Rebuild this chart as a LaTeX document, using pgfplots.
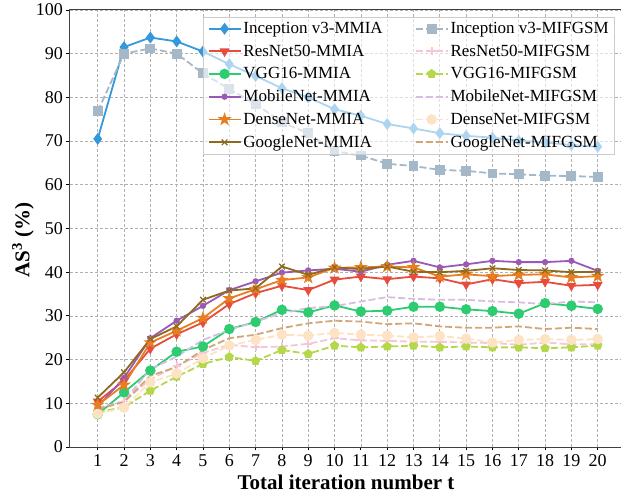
\documentclass[border=0pt]{standalone}
\usepackage{pgfplots}
\pgfplotsset{compat=1.18}
\usepackage{fontspec}
\setmainfont{Liberation Serif}
\usetikzlibrary{plotmarks}

\definecolor{cblue}{HTML}{3498DB}
\definecolor{cred}{HTML}{E74C3C}
\definecolor{cgreen}{HTML}{2ECC71}
\definecolor{cpurple}{HTML}{9B59B6}
\definecolor{corange}{HTML}{E67E22}
\definecolor{cbrown}{HTML}{8C6A1E}
\definecolor{cgray}{HTML}{A5B8C8}
\definecolor{cpink}{HTML}{F5C6D8}
\definecolor{clime}{HTML}{B5D84A}
\definecolor{clilac}{HTML}{D7BDE2}
\definecolor{cpeach}{HTML}{FDE3C3}
\definecolor{ctan}{HTML}{D2A679}
\definecolor{cgrid}{HTML}{B0B0B0}

\pgfdeclareplotmark{fstar}{%
  \pgfpathmoveto{\pgfpointpolar{90}{\pgfplotmarksize}}%
  \pgfpathlineto{\pgfpointpolar{126}{0.4\pgfplotmarksize}}%
  \pgfpathlineto{\pgfpointpolar{162}{\pgfplotmarksize}}%
  \pgfpathlineto{\pgfpointpolar{198}{0.4\pgfplotmarksize}}%
  \pgfpathlineto{\pgfpointpolar{234}{\pgfplotmarksize}}%
  \pgfpathlineto{\pgfpointpolar{270}{0.4\pgfplotmarksize}}%
  \pgfpathlineto{\pgfpointpolar{306}{\pgfplotmarksize}}%
  \pgfpathlineto{\pgfpointpolar{342}{0.4\pgfplotmarksize}}%
  \pgfpathlineto{\pgfpointpolar{18}{\pgfplotmarksize}}%
  \pgfpathlineto{\pgfpointpolar{54}{0.4\pgfplotmarksize}}%
  \pgfpathclose\pgfusepathqfillstroke}

\pgfplotstableread{
t incM incF resM resF vggM vggF mobM mobF denM denF gooM gooF
1 70.5 76.8 10.4 8.5 7.5 8.0 9.2 8.9 9.6 7.6 11.3 8.7
2 91.5 90.0 15.2 10.4 12.5 9.1 15.8 10.5 14.2 9.0 17.1 10.3
3 93.7 91.2 22.5 15.5 17.5 12.9 24.9 17.8 23.9 14.8 24.7 16.3
4 92.8 90.0 25.8 18.5 21.8 16.1 28.9 20.7 26.6 16.8 27.6 18.3
5 90.5 85.5 28.5 21.5 23.0 19.0 32.3 24.5 29.5 20.3 33.7 22.2
6 87.6 81.9 32.7 23.4 27.0 20.6 35.9 26.8 34.0 23.2 35.8 24.9
7 84.9 78.5 35.2 22.8 28.6 19.7 37.9 28.7 36.1 24.5 36.3 25.7
8 82.1 74.3 36.9 23.0 31.4 22.2 39.9 30.6 38.2 25.7 41.3 27.2
9 80.0 71.8 35.9 23.6 30.8 21.3 40.4 31.8 38.8 25.5 39.4 28.3
10 77.3 67.7 38.3 24.9 32.4 23.2 40.8 32.2 41.0 26.1 41.1 28.9
11 75.8 66.7 39.0 24.4 31.0 22.8 40.1 33.3 41.1 25.7 40.7 28.7
12 73.9 64.8 38.4 24.3 31.2 23.0 41.7 34.3 41.3 25.5 41.3 28.1
13 72.9 64.3 39.0 24.1 32.1 23.2 42.6 33.9 41.1 25.1 40.1 28.3
14 71.8 63.4 38.6 24.1 32.1 22.8 41.1 33.7 39.0 25.4 40.0 27.6
15 71.2 63.2 37.2 23.9 31.5 23.0 41.8 33.7 39.5 24.8 40.3 27.3
16 70.8 62.6 38.4 23.8 31.1 22.8 42.6 33.3 39.1 23.9 40.9 27.3
17 70.1 62.4 37.5 23.4 30.5 22.8 42.3 33.1 39.4 24.5 40.5 27.6
18 69.7 62.1 37.8 23.9 32.9 22.6 42.3 32.7 39.5 24.7 40.4 27.0
19 69.1 62.0 36.9 23.5 32.3 22.8 42.6 33.3 38.8 24.5 40.0 27.3
20 68.7 61.8 37.1 23.5 31.6 23.2 40.3 33.1 39.1 24.7 40.1 27.0
}\datatable

\begin{document}
\begin{tikzpicture}
\begin{axis}[
  scale only axis,
  width=552bp, height=437bp,
  xmin=-0.053, xmax=20.923,
  ymin=0, ymax=100,
  xtick={1,...,20},
  ytick={0,10,...,100},
  grid=major,
  grid style={cgrid, dash pattern=on 3bp off 2bp, line width=0.7bp},
  axis line style={black!75, line width=1bp},
  tick style={black, line width=0.8bp},
  major tick length=3.5bp,
  tick align=outside,
  xtick pos=lower, ytick pos=left,
  /pgf/number format/assume math mode=true,
  tick label style={font=\fontsize{18bp}{20bp}\selectfont},
  xticklabel style={yshift=-1bp},
  xlabel={\textbf{Total iteration number t}},
  xlabel style={font=\fontsize{21bp}{24bp}\selectfont, at={(axis description cs:0.5,0)}, anchor=center, yshift=-35bp},
  ylabel={\textbf{AS\textsuperscript{3} (\%)}},
  ylabel style={font=\fontsize{21bp}{24bp}\selectfont, at={(axis description cs:-0.085,0.474)}, anchor=center},
  legend columns=2,
  legend cell align=left,
  legend image code/.code={\draw[fill opacity=1, draw opacity=1, mark repeat=2,mark phase=2] plot coordinates {(0bp,0bp) (16bp,0bp) (32bp,0bp)};},
  legend style={at={(rel axis cs:0.9875,0.984)}, anchor=north east,
    draw=black!20, fill=white, fill opacity=0.6, draw opacity=1, text opacity=1, line width=0.8bp,
    font=\fontsize{17bp}{19bp}\selectfont,
    inner xsep=4bp, inner ysep=3bp, row sep=5.8bp,
    /tikz/column 2/.style={column sep=30bp}},
  every axis plot/.append style={line width=1.8bp},
]
\addplot[cblue, mark=diamond*, mark size=4.5bp] table[x=t,y=incM]{\datatable};
\addlegendentry{Inception v3-MMIA}
\addplot[cgray, dash pattern=on 7bp off 3bp, mark=square*, mark size=4bp, mark options={solid}] table[x=t,y=incF]{\datatable};
\addlegendentry{Inception v3-MIFGSM}
\addplot[cred, mark=triangle*, mark size=4bp, mark options={rotate=180}] table[x=t,y=resM]{\datatable};
\addlegendentry{ResNet50-MMIA}
\addplot[cpink, dash pattern=on 7bp off 3bp, mark=+, mark size=4bp, mark options={solid}] table[x=t,y=resF]{\datatable};
\addlegendentry{ResNet50-MIFGSM}
\addplot[cgreen, mark=*, mark size=4.3bp] table[x=t,y=vggM]{\datatable};
\addlegendentry{VGG16-MMIA}
\addplot[clime, dash pattern=on 7bp off 3bp, mark=pentagon*, mark size=3.8bp, mark options={solid}] table[x=t,y=vggF]{\datatable};
\addlegendentry{VGG16-MIFGSM}
\addplot[cpurple, mark=*, mark size=2.2bp] table[x=t,y=mobM]{\datatable};
\addlegendentry{MobileNet-MMIA}
\addplot[clilac, dash pattern=on 7bp off 3bp] table[x=t,y=mobF]{\datatable};
\addlegendentry{MobileNet-MIFGSM}
\addplot[corange, mark=fstar, mark size=4.5bp] table[x=t,y=denM]{\datatable};
\addlegendentry{DenseNet-MMIA}
\addplot[cpeach, dash pattern=on 7bp off 3bp, mark=*, mark size=4.3bp, mark options={solid}] table[x=t,y=denF]{\datatable};
\addlegendentry{DenseNet-MIFGSM}
\addplot[cbrown, mark=x, mark size=4bp, mark options={line width=1.2bp}] table[x=t,y=gooM]{\datatable};
\addlegendentry{GoogleNet-MMIA}
\addplot[ctan, dash pattern=on 7bp off 3bp] table[x=t,y=gooF]{\datatable};
\addlegendentry{GoogleNet-MIFGSM}
\coordinate (sw) at (rel axis cs:0,0);
\coordinate (ne) at (rel axis cs:1,1);
\end{axis}
\pgfresetboundingbox
\useasboundingbox ([xshift=-70bp,yshift=-47bp]sw) rectangle ([xshift=-1bp,yshift=10bp]ne);
\end{tikzpicture}
\end{document}
